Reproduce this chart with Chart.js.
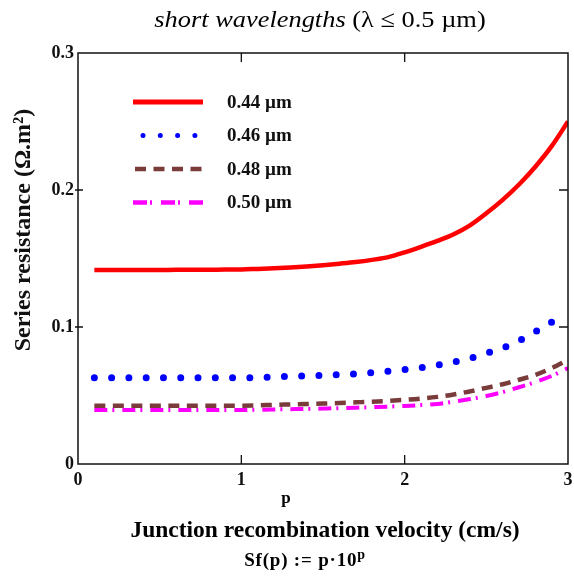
<!DOCTYPE html>
<html>
<head>
<meta charset="utf-8">
<script src="https://cdn.jsdelivr.net/npm/chart.js@4.4.1/dist/chart.umd.min.js"></script>
<style>
  body { margin: 0; background: #fff; }
  #wrap { position: relative; width: 574px; height: 576px; overflow: hidden; background: #fff; }
  #chart { position: absolute; left: 0; top: 0; }
  .lbl { position: absolute; width: 460px; text-align: center; white-space: nowrap; color: #000;
         font-family: "Liberation Serif", "Times New Roman", serif; }
  #title { left: 90px; top: 7px; font-size: 24px; line-height: 24px; transform: scaleX(1.1); }
  #pvar { left: 56px; top: 489px; font-size: 17px; line-height: 17px; font-weight: bold; }
  #xtitle { left: 95px; top: 518px; font-size: 23.5px; line-height: 23.5px; font-weight: bold; }
  #sf { left: 75px; top: 550px; font-size: 19px; line-height: 19px; font-weight: bold; letter-spacing: 0.8px; }
  #sf sup { font-size: 14px; vertical-align: 7px; line-height: 0; }
</style>
</head>
<body>
<div id="wrap">
  <canvas id="chart" width="574" height="576"></canvas>
  <div class="lbl" id="title"><i>short wavelengths</i> (λ ≤ 0.5 µm)</div>
  <div class="lbl" id="pvar">p</div>
  <div class="lbl" id="xtitle">Junction recombination velocity (cm/s)</div>
  <div class="lbl" id="sf">Sf(p) := p·10<sup>p</sup></div>
</div>
<script>
// p values (x axis)
const pValues = [0.1, 0.2, 0.3, 0.4, 0.5, 0.6, 0.7, 0.8, 0.9, 1.0,
                 1.1, 1.2, 1.3, 1.4, 1.5, 1.6, 1.7, 1.8, 1.9, 2.0,
                 2.1, 2.2, 2.3, 2.4, 2.5, 2.6, 2.7, 2.8, 2.9, 3.0];

// series resistance (Ohm.m^2) for each wavelength
const rs044 = [0.1416, 0.1416, 0.1416, 0.1416, 0.1416, 0.1417, 0.1417, 0.1418, 0.1419, 0.1420,
               0.1424, 0.1428, 0.1434, 0.1442, 0.1451, 0.1462, 0.1474, 0.1490, 0.1510, 0.1545,
               0.1585, 0.1628, 0.1677, 0.1742, 0.1830, 0.1928, 0.2040, 0.2170, 0.2320, 0.2500];
const rs046 = [0.0630, 0.0630, 0.0630, 0.0630, 0.0630, 0.0630, 0.0630, 0.0630, 0.0630, 0.0630,
               0.0630, 0.0636, 0.0640, 0.0643, 0.0647, 0.0652, 0.0657, 0.0666, 0.0677, 0.0689,
               0.0703, 0.0722, 0.0745, 0.0772, 0.0808, 0.0846, 0.0900, 0.0966, 0.1036];
const rs048 = [0.0425, 0.0425, 0.0425, 0.0425, 0.0425, 0.0425, 0.0425, 0.0425, 0.0425, 0.0426,
               0.0428, 0.0432, 0.0435, 0.0438, 0.0441, 0.0445, 0.0450, 0.0455, 0.0461, 0.0468,
               0.0477, 0.0490, 0.0507, 0.0530, 0.0556, 0.0582, 0.0615, 0.0650, 0.0700, 0.0760];
const rs050 = [0.0394, 0.0394, 0.0394, 0.0394, 0.0394, 0.0394, 0.0394, 0.0394, 0.0394, 0.0394,
               0.0396, 0.0398, 0.0400, 0.0402, 0.0405, 0.0408, 0.0411, 0.0415, 0.0419, 0.0424,
               0.0430, 0.0438, 0.0455, 0.0474, 0.0496, 0.0525, 0.0560, 0.0598, 0.0643, 0.0700];

const seriesLabels = ['0.44 µm', '0.46 µm', '0.48 µm', '0.50 µm'];
const xTickValues = [0, 1, 2, 3];
const yTickValues = [0, 0.1, 0.2, 0.3];
const yTitle = 'Series resistance (Ω.m²)';

const serif = '"Liberation Serif", "Times New Roman", serif';

function points(values) {
    return values.map((v, i) => ({ x: pValues[i], y: v }));
}

// cadre + petites graduations vers l'intérieur
const framePlugin = {
    id: 'frame',
    afterDatasetsDraw(chart) {
        const { ctx, chartArea: a, scales } = chart;
        ctx.save();
        ctx.strokeStyle = '#111';
        ctx.setLineDash([]);
        ctx.lineWidth = 1.5;
        ctx.strokeRect(a.left, a.top, a.right - a.left, a.bottom - a.top);
        ctx.lineWidth = 1.3;
        ctx.beginPath();
        xTickValues.slice(1, -1).forEach(v => {
            const px = scales.x.getPixelForValue(v);
            ctx.moveTo(px, a.bottom); ctx.lineTo(px, a.bottom - 9);
            ctx.moveTo(px, a.top); ctx.lineTo(px, a.top + 9);
        });
        yTickValues.slice(1, -1).forEach(v => {
            const py = scales.y.getPixelForValue(v);
            ctx.moveTo(a.left - 3, py); ctx.lineTo(a.left + 5, py);
            ctx.moveTo(a.right, py); ctx.lineTo(a.right - 9, py);
        });
        ctx.stroke();

        // titre de l'axe vertical
        ctx.translate(24, 230);
        ctx.rotate(-Math.PI / 2);
        ctx.fillStyle = '#111';
        ctx.font = 'bold 24px ' + serif;
        ctx.textAlign = 'center';
        ctx.textBaseline = 'middle';
        ctx.fillText(yTitle, 0, 0);
        ctx.restore();
    }
};

// légende dessinée dans la zone du graphique
const legendPlugin = {
    id: 'innerLegend',
    afterDraw(chart) {
        const { ctx, chartArea: a } = chart;
        ctx.save();
        chart.data.datasets.forEach((ds, i) => {
            const y = a.top + 49 + i * 33.5;
            const lg = ds.legendStyle;
            ctx.strokeStyle = ds.borderColor;
            ctx.lineWidth = lg.width;
            ctx.lineCap = ds.borderCapStyle || 'butt';
            ctx.setLineDash(lg.dash);
            ctx.beginPath();
            ctx.moveTo(a.left + lg.from, y);
            ctx.lineTo(a.left + 125, y);
            ctx.stroke();
            ctx.setLineDash([]);
            ctx.fillStyle = '#111';
            ctx.font = 'bold 19px ' + serif;
            ctx.textBaseline = 'middle';
            ctx.fillText(ds.label, a.left + 149, y + 1);
        });
        ctx.restore();
    }
};

new Chart(document.getElementById('chart'), {
    type: 'line',
    data: {
        datasets: [
            {
                label: seriesLabels[0], data: points(rs044),
                borderColor: '#ff0000', borderWidth: 4.5, pointRadius: 0,
                legendStyle: { width: 5, dash: [], from: 55 }
            },
            {
                label: seriesLabels[1], data: points(rs046),
                borderColor: '#0000ff', borderWidth: 7, pointRadius: 0,
                borderDash: [0, 17.28], borderCapStyle: 'round',
                legendStyle: { width: 5, dash: [0, 17.3], from: 65 }
            },
            {
                label: seriesLabels[2], data: points(rs048),
                borderColor: '#7a3b3b', borderWidth: 4.5, pointRadius: 0,
                borderDash: [11, 7.5],
                legendStyle: { width: 4.5, dash: [11, 7.5], from: 57 }
            },
            {
                label: seriesLabels[3], data: points(rs050),
                borderColor: '#ff00ff', borderWidth: 4, pointRadius: 0,
                borderDash: [13, 5, 2, 8],
                legendStyle: { width: 4.5, dash: [14, 3, 2, 9], from: 55 }
            }
        ]
    },
    options: {
        responsive: false,
        animation: false,
        devicePixelRatio: 1,
        layout: { padding: { top: 53, right: 6, left: 0, bottom: 0 } },
        plugins: {
            legend: { display: false },
            tooltip: { enabled: false }
        },
        elements: { line: { cubicInterpolationMode: 'monotone' } },
        scales: {
            x: {
                type: 'linear', min: 0, max: 3,
                afterFit: s => { s.height = 112; s.paddingLeft = 0; s.paddingRight = 0; },
                afterBuildTicks: s => { s.ticks = xTickValues.map(v => ({ value: v })); },
                grid: { display: false, drawTicks: false },
                border: { display: false },
                ticks: { color: '#111', padding: 6, maxRotation: 0, font: { family: serif, size: 18, weight: 'bold' } }
            },
            y: {
                type: 'linear', min: 0, max: 0.3,
                afterFit: s => { s.width = 78; },
                afterBuildTicks: s => { s.ticks = yTickValues.map(v => ({ value: v })); },
                grid: { display: false, drawTicks: false },
                border: { display: false },
                ticks: { color: '#111', padding: 4, font: { family: serif, size: 18, weight: 'bold' } }
            }
        }
    },
    plugins: [framePlugin, legendPlugin]
});
</script>
</body>
</html>
